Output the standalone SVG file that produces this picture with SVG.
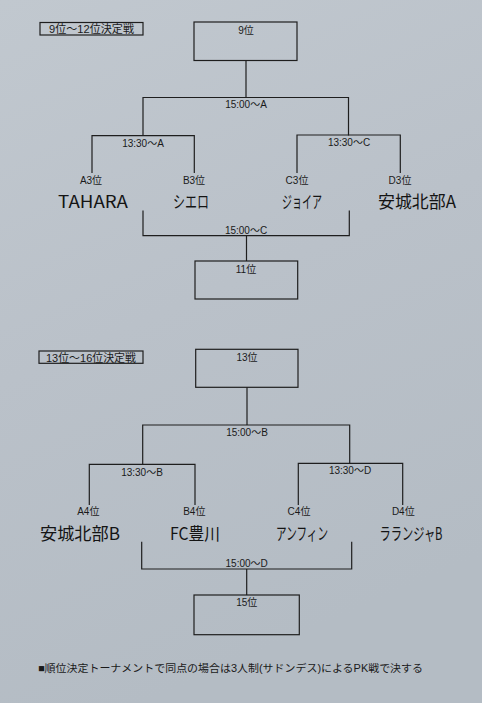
<svg xmlns="http://www.w3.org/2000/svg" width="482" height="703" viewBox="0 0 482 703">
<defs>
<linearGradient id="paper" x1="0" y1="0" x2="0.3" y2="1">
<stop offset="0" stop-color="#c1c8cf"/>
<stop offset="0.5" stop-color="#bac1c9"/>
<stop offset="1" stop-color="#b4bcc4"/>
</linearGradient>
<style>
.box{fill:none;stroke:#1e1e1e;stroke-width:1.2}
.ln{fill:none;stroke:#1e1e1e;stroke-width:1.2}
.t{font-family:"Liberation Sans","Noto Sans CJK JP",sans-serif;font-size:10px;fill:#1a1a1a;text-anchor:middle}
.ttl{font-family:"Liberation Sans","Noto Sans CJK JP",sans-serif;font-size:11px;fill:#1a1a1a;text-anchor:middle}
.team{font-family:"Noto Sans CJK JP","DejaVu Sans",sans-serif;font-size:17px;fill:#141414;text-anchor:middle}
.note{font-family:"Liberation Sans","Noto Sans CJK JP",sans-serif;font-size:10.5px;fill:#1a1a1a}
</style>
</defs>
<rect width="482" height="703" fill="url(#paper)"/>

<g id="connectors">
<path class="ln" d="M246 60.5V97.5M143 136V97.5H348.5V135.5"/>
<path class="ln" d="M92 173V135.7H194.3V173"/>
<path class="ln" d="M297 173V135H400.3V173"/>
<path class="ln" d="M143 210.5V235.7H349.3V210.5M246.5 235.7V261"/>
<path class="ln" d="M247 387.3V425M142.7 464.3V425H349.7V463.3"/>
<path class="ln" d="M89.3 505V464.3H195V505"/>
<path class="ln" d="M298.3 505V463.3H402.7V505"/>
<path class="ln" d="M141.7 541.7V569H351.7V541.7M246.7 569V595"/>
</g>

<g id="title1"><rect class="box" x="40" y="22.5" width="103" height="12.5"/><text class="ttl" x="91.5" y="33" textLength="85" lengthAdjust="spacingAndGlyphs">9位～12位決定戦</text></g>
<g id="rank9"><rect class="box" x="194" y="22" width="103" height="38.5"/><text class="t" x="246" y="34">9位</text></g>
<g id="m1500A"><text class="t" x="246" y="108">15:00～A</text></g>
<g id="m1330A"><text class="t" x="143" y="147">13:30～A</text></g>
<g id="m1330C"><text class="t" x="349" y="146">13:30～C</text></g>
<g id="A3"><text class="t" x="91" y="184">A3位</text><text class="team" x="93" y="208" textLength="70" lengthAdjust="spacingAndGlyphs">TAHARA</text></g>
<g id="B3"><text class="t" x="194" y="184">B3位</text><text class="team" x="191" y="208" textLength="36" lengthAdjust="spacingAndGlyphs">シエロ</text></g>
<g id="C3"><text class="t" x="297" y="184">C3位</text><text class="team" x="302" y="208" textLength="40" lengthAdjust="spacingAndGlyphs">ジョイア</text></g>
<g id="D3"><text class="t" x="400" y="184">D3位</text><text class="team" x="417" y="208" textLength="78" lengthAdjust="spacingAndGlyphs">安城北部A</text></g>
<g id="m1500C"><text class="t" x="246" y="234">15:00～C</text></g>
<g id="rank11"><rect class="box" x="195" y="261" width="102.7" height="38"/><text class="t" x="246" y="273">11位</text></g>

<g id="title2"><rect class="box" x="39" y="351" width="104" height="12.3"/><text class="ttl" x="91" y="361.5" textLength="90" lengthAdjust="spacingAndGlyphs">13位～16位決定戦</text></g>
<g id="rank13"><rect class="box" x="195.7" y="349.3" width="102.3" height="38"/><text class="t" x="247" y="361">13位</text></g>
<g id="m1500B"><text class="t" x="247" y="436">15:00～B</text></g>
<g id="m1330B"><text class="t" x="142" y="476">13:30～B</text></g>
<g id="m1330D"><text class="t" x="350" y="474">13:30～D</text></g>
<g id="A4"><text class="t" x="88.3" y="515">A4位</text><text class="team" x="80" y="540" textLength="80" lengthAdjust="spacingAndGlyphs">安城北部B</text></g>
<g id="B4"><text class="t" x="194.3" y="515">B4位</text><text class="team" x="195" y="540" textLength="50" lengthAdjust="spacingAndGlyphs">FC豊川</text></g>
<g id="C4"><text class="t" x="299" y="515">C4位</text><text class="team" x="302" y="540" textLength="52" lengthAdjust="spacingAndGlyphs">アンフィン</text></g>
<g id="D4"><text class="t" x="403.3" y="515">D4位</text><text class="team" x="411" y="540" textLength="63" lengthAdjust="spacingAndGlyphs">ラランジャB</text></g>
<g id="m1500D"><text class="t" x="246.7" y="567">15:00～D</text></g>
<g id="rank15"><rect class="box" x="194" y="595" width="105.3" height="39.7"/><text class="t" x="246.7" y="606">15位</text></g>

<g id="note"><text class="note" x="38" y="671.5" textLength="385" lengthAdjust="spacingAndGlyphs">■順位決定トーナメントで同点の場合は3人制(サドンデス)によるPK戦で決する</text></g>
</svg>
